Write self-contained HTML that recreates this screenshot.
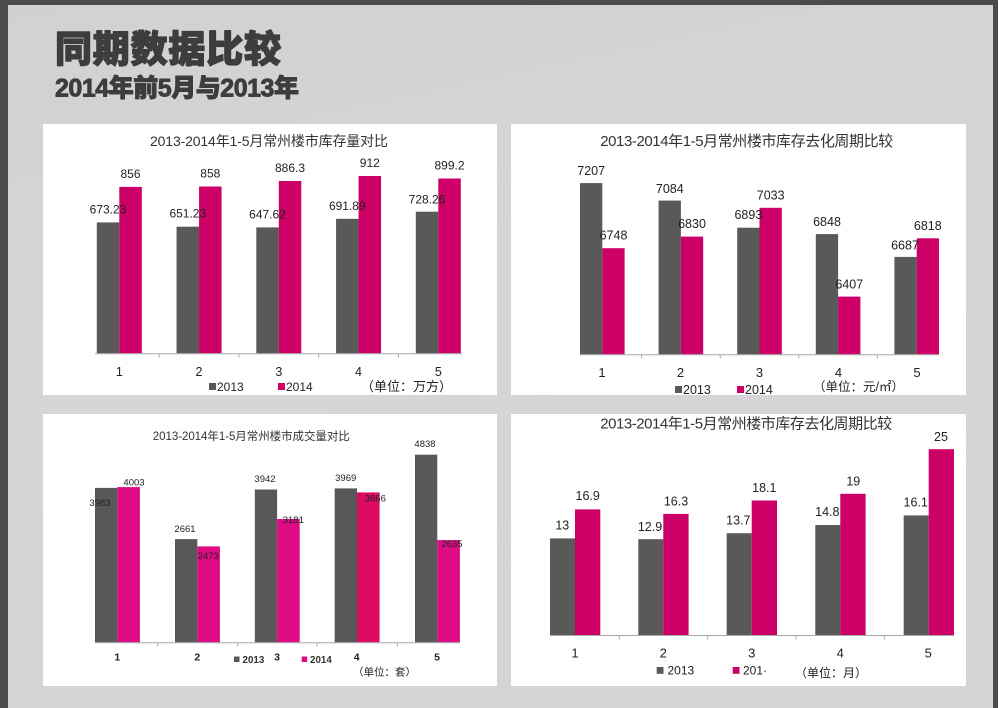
<!DOCTYPE html>
<html><head><meta charset="utf-8"><style>
html,body{margin:0;padding:0;background:#d4d4d6;}
svg{display:block;}
text{font-family:"Liberation Sans","Noto Sans CJK SC",sans-serif;}
</style></head><body>
<svg width="998" height="708" viewBox="0 0 998 708" xmlns="http://www.w3.org/2000/svg">
<defs>
<linearGradient id="bg" x1="0" y1="0" x2="0.3" y2="1">
<stop offset="0" stop-color="#d1d1d3"/><stop offset="0.5" stop-color="#d6d6d8"/><stop offset="1" stop-color="#d4d4d6"/>
</linearGradient>
</defs>
<rect x="0" y="0" width="998" height="708" fill="url(#bg)"/>
<rect x="0" y="0" width="998" height="5" fill="#4b4b4b"/>
<rect x="0" y="0" width="8" height="708" fill="#4b4b4b"/>
<rect x="993" y="0" width="5" height="708" fill="#4b4b4b"/>

<text x="55" y="62" font-size="37" font-weight="900" fill="#3d3d3d" stroke="#3d3d3d" stroke-width="1.3" stroke-linejoin="round" textLength="226" lengthAdjust="spacing">同期数据比较</text>
<text x="55" y="96.5" font-size="25" font-weight="900" fill="#3d3d3d" stroke="#3d3d3d" stroke-width="0.9" stroke-linejoin="round" textLength="244" lengthAdjust="spacing">2014年前5月与2013年</text>

<!-- Panel 1 -->
<rect x="43" y="124" width="454" height="271" fill="#fff"/>
<text x="269" y="146" font-size="14" fill="#333" text-anchor="middle" textLength="238" lengthAdjust="spacing">2013-2014年1-5月常州楼市库存量对比</text>
<g fill="#595959">
<rect x="96.8" y="222.4" width="22.5" height="130.9"/>
<rect x="176.55" y="226.7" width="22.5" height="126.6"/>
<rect x="256.3" y="227.4" width="22.5" height="125.9"/>
<rect x="336.05" y="218.8" width="22.5" height="134.5"/>
<rect x="415.8" y="211.7" width="22.5" height="141.6"/>
</g>
<g fill="#cc0066">
<rect x="119.3" y="186.9" width="22.5" height="166.4"/>
<rect x="199.05" y="186.5" width="22.5" height="166.8"/>
<rect x="278.8" y="181.0" width="22.5" height="172.3"/>
<rect x="358.55" y="176.0" width="22.5" height="177.3"/>
<rect x="438.3" y="178.5" width="22.5" height="174.8"/>
</g>
<g stroke="#a8a8a8" stroke-width="1">
<line x1="95" y1="353.8" x2="462" y2="353.8"/>
<line x1="159.2" y1="353.8" x2="159.2" y2="357.5"/>
<line x1="238.9" y1="353.8" x2="238.9" y2="357.5"/>
<line x1="318.7" y1="353.8" x2="318.7" y2="357.5"/>
<line x1="398.4" y1="353.8" x2="398.4" y2="357.5"/>
</g>
<g font-size="12" fill="#222" text-anchor="middle">
<text x="108" y="213.4">673.23</text>
<text x="187.8" y="217.7">651.23</text>
<text x="267.5" y="218.4">647.62</text>
<text x="347.3" y="209.8">691.89</text>
<text x="427" y="203.5">728.26</text>
<text x="130.5" y="177.9">856</text>
<text x="210.3" y="177.5">858</text>
<text x="290" y="172">886.3</text>
<text x="369.8" y="167">912</text>
<text x="449.5" y="169.5">899.2</text>
</g>
<g font-size="12.5" fill="#222" text-anchor="middle">
<text x="119.3" y="376">1</text>
<text x="199" y="376">2</text>
<text x="278.8" y="376">3</text>
<text x="358.5" y="376">4</text>
<text x="438.3" y="376">5</text>
</g>
<rect x="209" y="383" width="7" height="7" fill="#595959"/>
<text x="217" y="391" font-size="12" fill="#222">2013</text>
<rect x="278" y="383" width="7" height="7" fill="#cc0066"/>
<text x="286" y="391" font-size="12" fill="#222">2014</text>
<text x="361" y="391" font-size="13" fill="#222">（单位：万方）</text>

<!-- Panel 2 -->
<rect x="511" y="124" width="455" height="271" fill="#fff"/>
<text x="746.7" y="146" font-size="15" fill="#333" text-anchor="middle" textLength="293" lengthAdjust="spacing">2013-2014年1-5月常州楼市库存去化周期比较</text>
<g fill="#595959">
<rect x="580" y="183.1" width="22.3" height="171.2"/>
<rect x="658.6" y="200.6" width="22.3" height="153.7"/>
<rect x="737.2" y="227.7" width="22.3" height="126.6"/>
<rect x="815.8" y="234.1" width="22.3" height="120.2"/>
<rect x="894.4" y="256.9" width="22.3" height="97.4"/>
</g>
<g fill="#cc0066">
<rect x="602.3" y="248.2" width="22.3" height="106.1"/>
<rect x="680.9" y="236.6" width="22.3" height="117.7"/>
<rect x="759.5" y="207.8" width="22.3" height="146.5"/>
<rect x="838.1" y="296.6" width="22.3" height="57.7"/>
<rect x="916.7" y="238.3" width="22.3" height="116.0"/>
</g>
<g stroke="#a8a8a8" stroke-width="1">
<line x1="580" y1="354.8" x2="939" y2="354.8"/>
<line x1="641.6" y1="354.8" x2="641.6" y2="358.5"/>
<line x1="720.2" y1="354.8" x2="720.2" y2="358.5"/>
<line x1="798.8" y1="354.8" x2="798.8" y2="358.5"/>
<line x1="877.4" y1="354.8" x2="877.4" y2="358.5"/>
</g>
<g font-size="12.5" fill="#222" text-anchor="middle">
<text x="591.2" y="175.2">7207</text>
<text x="669.8" y="193">7084</text>
<text x="748.4" y="218.8">6893</text>
<text x="827" y="226">6848</text>
<text x="905" y="249.3">6687</text>
<text x="613.5" y="239.5">6748</text>
<text x="692" y="227.8">6830</text>
<text x="770.7" y="199.5">7033</text>
<text x="849.3" y="288.5">6407</text>
<text x="927.8" y="229.8">6818</text>
</g>
<g font-size="13" fill="#222" text-anchor="middle">
<text x="602" y="377">1</text>
<text x="680.5" y="377">2</text>
<text x="759.5" y="377">3</text>
<text x="838.5" y="377">4</text>
<text x="917" y="377">5</text>
</g>
<rect x="675" y="386" width="7" height="7" fill="#595959"/>
<text x="683" y="394" font-size="12.5" fill="#222">2013</text>
<rect x="737" y="386" width="7" height="7" fill="#cc0066"/>
<text x="745" y="394" font-size="12.5" fill="#222">2014</text>
<text x="813" y="391" font-size="12.5" fill="#222">（单位：元/㎡）</text>

<!-- Panel 3 -->
<rect x="43" y="414" width="454" height="272" fill="#fff"/>
<text x="251.3" y="440" font-size="11.5" fill="#333" text-anchor="middle" textLength="197" lengthAdjust="spacing">2013-2014年1-5月常州楼市成交量对比</text>
<g fill="#585858">
<rect x="95" y="487.9" width="22.3" height="154.4"/>
<rect x="175" y="539.1" width="22.3" height="103.2"/>
<rect x="254.8" y="489.5" width="22.3" height="152.8"/>
<rect x="334.7" y="488.4" width="22.3" height="153.9"/>
<rect x="415" y="454.7" width="22.3" height="187.6"/>
</g>
<g fill="#dd0b84">
<rect x="117.3" y="487.1" width="22.6" height="155.2"/>
<rect x="197.3" y="546.4" width="22.6" height="95.9"/>
<rect x="277.1" y="519.0" width="22.6" height="123.3"/>
<rect x="437.3" y="540.1" width="22.6" height="102.2"/>
</g>
<rect x="357" y="492.4" width="22.6" height="149.9" fill="#dc0c62"/>
<g stroke="#a8a8a8" stroke-width="1">
<line x1="95" y1="642.8" x2="460" y2="642.8"/>
<line x1="157.7" y1="642.8" x2="157.7" y2="646.5"/>
<line x1="237.7" y1="642.8" x2="237.7" y2="646.5"/>
<line x1="317" y1="642.8" x2="317" y2="646.5"/>
<line x1="397.3" y1="642.8" x2="397.3" y2="646.5"/>
</g>
<g font-size="9.5" fill="#222" text-anchor="middle">
<text x="100" y="505.8">3983</text>
<text x="134" y="485.5">4003</text>
<text x="185" y="531.8">2661</text>
<text x="208.3" y="559.2">2473</text>
<text x="265" y="481.8">3942</text>
<text x="293.3" y="522.8">3181</text>
<text x="345.7" y="481.2">3969</text>
<text x="375.3" y="501.5">3866</text>
<text x="425" y="446.8">4838</text>
<text x="452" y="547.2">2635</text>
</g>
<g font-size="10.5" font-weight="bold" fill="#222" text-anchor="middle">
<text x="117.3" y="660.5">1</text>
<text x="197.3" y="660.5">2</text>
<text x="277" y="660.5">3</text>
<text x="356.7" y="660.5">4</text>
<text x="437" y="660.5">5</text>
</g>
<rect x="234" y="656.5" width="5.5" height="5.5" fill="#585858"/>
<text x="242.5" y="663" font-size="9.8" font-weight="bold" fill="#333">2013</text>
<rect x="301.7" y="656.5" width="5.5" height="5.5" fill="#dd0b84"/>
<text x="310" y="663" font-size="9.8" font-weight="bold" fill="#333">2014</text>
<text x="353" y="675.5" font-size="10.5" fill="#222">（单位：套）</text>

<!-- Panel 4 -->
<rect x="511" y="414" width="455" height="272" fill="#fff"/>
<text x="746.2" y="428.5" font-size="15" fill="#333" text-anchor="middle" textLength="292" lengthAdjust="spacing">2013-2014年1-5月常州楼市库存去化周期比较</text>
<g fill="#595959">
<rect x="550" y="538.4" width="25" height="96.6"/>
<rect x="638.3" y="539.2" width="25" height="95.8"/>
<rect x="726.7" y="533.2" width="25" height="101.8"/>
<rect x="815.3" y="525.0" width="25" height="110.0"/>
<rect x="903.7" y="515.4" width="25" height="119.6"/>
</g>
<g fill="#cc0066">
<rect x="575" y="509.4" width="25.3" height="125.6"/>
<rect x="663.3" y="513.9" width="25.3" height="121.1"/>
<rect x="751.7" y="500.5" width="25.3" height="134.5"/>
<rect x="840.3" y="493.8" width="25.3" height="141.2"/>
<rect x="928.7" y="449.2" width="25.3" height="185.8"/>
</g>
<g stroke="#a8a8a8" stroke-width="1">
<line x1="550" y1="635.5" x2="954" y2="635.5"/>
<line x1="619.3" y1="635.5" x2="619.3" y2="639.5"/>
<line x1="707.7" y1="635.5" x2="707.7" y2="639.5"/>
<line x1="796" y1="635.5" x2="796" y2="639.5"/>
<line x1="884.3" y1="635.5" x2="884.3" y2="639.5"/>
</g>
<g font-size="12.5" fill="#222" text-anchor="middle">
<text x="562.3" y="529.3">13</text>
<text x="587.7" y="500">16.9</text>
<text x="650" y="531">12.9</text>
<text x="676" y="505.3">16.3</text>
<text x="738.3" y="524.3">13.7</text>
<text x="764.3" y="492">18.1</text>
<text x="827.3" y="516">14.8</text>
<text x="853.3" y="485.3">19</text>
<text x="915.7" y="506.6">16.1</text>
<text x="941" y="441">25</text>
</g>
<g font-size="13" fill="#222" text-anchor="middle">
<text x="575" y="657.5">1</text>
<text x="663.3" y="657.5">2</text>
<text x="751.7" y="657.5">3</text>
<text x="840.3" y="657.5">4</text>
<text x="928.3" y="657.5">5</text>
</g>
<rect x="656.7" y="667" width="6.8" height="6.8" fill="#595959"/>
<text x="667.5" y="674.5" font-size="12" fill="#222">2013</text>
<rect x="732.7" y="667" width="6.8" height="6.8" fill="#cc0066"/>
<text x="743" y="674.5" font-size="12" fill="#222">201·</text>
<text x="795" y="677" font-size="12" fill="#222">（单位：月）</text>
</svg>
</body></html>
